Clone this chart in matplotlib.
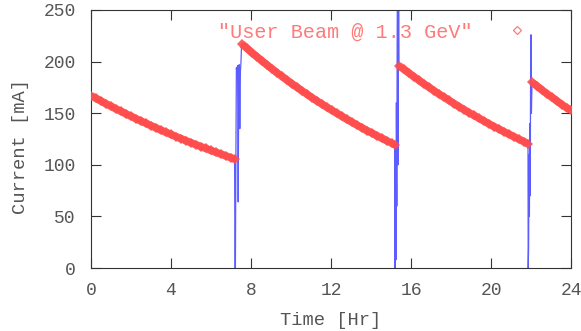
import matplotlib
matplotlib.use('Agg')
import matplotlib.pyplot as plt
from matplotlib.lines import Line2D

# user beam current (hr, mA)
t_fill1 = [0.0, 0.25, 0.5, 0.75, 1.0, 1.25, 1.5, 1.75, 2.0, 2.25, 2.5, 2.75, 3.0, 3.25,
           3.5, 3.75, 4.0, 4.25, 4.5, 4.75, 5.0, 5.25, 5.5, 5.75, 6.0, 6.25, 6.5, 6.75,
           7.0, 7.2]
i_fill1 = [167.0, 164.4, 161.8, 159.2, 156.7, 154.2, 151.8, 149.4, 147.0, 144.7, 142.4,
           140.2, 138.0, 135.8, 133.6, 131.5, 129.4, 127.4, 125.4, 123.4, 121.4, 119.5,
           117.6, 115.8, 113.9, 112.1, 110.4, 108.6, 106.9, 105.2]

t_fill2 = [7.55, 7.8, 8.05, 8.3, 8.55, 8.8, 9.05, 9.3, 9.55, 9.8, 10.05, 10.3, 10.55,
           10.8, 11.05, 11.3, 11.55, 11.8, 12.05, 12.3, 12.55, 12.8, 13.05, 13.3, 13.55,
           13.8, 14.05, 14.3, 14.55, 14.8, 15.05, 15.2]
i_fill2 = [217.0, 212.8, 208.7, 204.7, 200.7, 196.8, 193.0, 189.3, 185.6, 182.0, 178.5,
           175.1, 171.7, 168.4, 165.1, 161.9, 158.8, 155.7, 152.7, 149.8, 146.9, 144.0,
           141.3, 138.5, 135.9, 133.2, 130.7, 128.1, 125.7, 123.2, 120.8, 119.5]

t_fill3 = [15.4, 15.65, 15.9, 16.15, 16.4, 16.65, 16.9, 17.15, 17.4, 17.65, 17.9, 18.15,
           18.4, 18.65, 18.9, 19.15, 19.4, 19.65, 19.9, 20.15, 20.4, 20.65, 20.9, 21.15,
           21.4, 21.65, 21.85]
i_fill3 = [196.0, 192.4, 188.8, 185.3, 181.8, 178.4, 175.1, 171.8, 168.6, 165.5, 162.4,
           159.4, 156.4, 153.5, 150.6, 147.8, 145.1, 142.4, 139.7, 137.1, 134.6, 132.1,
           129.6, 127.2, 124.8, 122.5, 120.2]

t_fill4 = [22.05, 22.3, 22.55, 22.8, 23.05, 23.3, 23.55, 23.8, 24.0]
i_fill4 = [180.0, 176.2, 172.5, 168.8, 165.3, 161.8, 158.4, 155.0, 153.0]

# ring current during injections (blue trace)
t_inj1 = [7.18, 7.20, 7.22, 7.24, 7.27, 7.30, 7.33, 7.36, 7.38, 7.41, 7.44, 7.47, 7.50, 7.53, 7.55]
i_inj1 = [105, 0, 0, 90, 194, 188, 196, 64, 150, 197, 135, 190, 200, 218, 217]

t_inj2 = [15.18, 15.19, 15.21, 15.23, 15.25, 15.27, 15.29, 15.31, 15.33, 15.35, 15.38, 15.40]
i_inj2 = [120, 0, 0, 118, 8, 160, 60, 230, 300, 100, 300, 197]

t_inj3 = [21.85, 21.86, 21.88, 21.90, 21.92, 21.94, 21.96, 21.98, 22.00, 22.02, 22.05]
i_inj3 = [120, 0, 20, 110, 50, 140, 70, 190, 226, 150, 180]

x_ticks = [0, 4, 8, 12, 16, 20, 24]
y_ticks = [0, 50, 100, 150, 200, 250]

red = '#ff4d4d'
blue = '#5c5cff'
grey = '#555555'
font = 'Liberation Mono'

fig = plt.figure(figsize=(5.81, 3.31), dpi=100)
ax = fig.add_axes([0.1566, 0.1903, 0.8262, 0.7795])

for t, i in [(t_inj1, i_inj1), (t_inj2, i_inj2), (t_inj3, i_inj3)]:
    ax.plot(t, i, color=blue, lw=0.9, zorder=2)

# thick band: line under the diamonds so the dense points read as one stripe
for t, i in [(t_fill1, i_fill1), (t_fill2, i_fill2), (t_fill3, i_fill3), (t_fill4, i_fill4)]:
    ax.plot(t, i, color=red, lw=5.5, alpha=0.9, solid_capstyle='butt', zorder=3)
    ax.plot(t, i, linestyle='none', marker='D', ms=5.5, mew=0,
            color=red, alpha=0.9, zorder=3)

ax.set_xlim(0, 24)
ax.set_ylim(0, 250)
ax.set_xticks(x_ticks)
ax.set_yticks(y_ticks)
ax.tick_params(direction='in', length=7, width=0.8, top=True, right=True,
               labelsize=13, labelcolor=grey, color='#333333')
ax.tick_params(axis='x', pad=10)
ax.tick_params(axis='y', pad=11)
for lab in ax.get_xticklabels() + ax.get_yticklabels():
    lab.set_family(font)
for sp in ax.spines.values():
    sp.set_color('#333333')
    sp.set_linewidth(0.8)

ax.set_xlabel('Time [Hr]', family=font, fontsize=13.5, color=grey)
ax.set_ylabel('Current [mA]', family=font, fontsize=13.5, color=grey)
ax.xaxis.set_label_coords(0.5, -0.17)
ax.yaxis.set_label_coords(-0.13, 0.47)

handle = Line2D([], [], linestyle='none', marker='D', ms=4, mfc='none',
                mec='#ff7a7a', mew=0.9)
leg = ax.legend([handle], ['"User Beam @ 1.3 GeV"'], loc='upper right',
                bbox_to_anchor=(0.908, 0.952), frameon=False, markerfirst=False,
                handlelength=1.0, handletextpad=1.7, borderpad=0, borderaxespad=0,
                prop={'family': font, 'size': 14.5})
for txt in leg.get_texts():
    txt.set_color('#ff7a7a')

fig.savefig('out.png', dpi=100)
